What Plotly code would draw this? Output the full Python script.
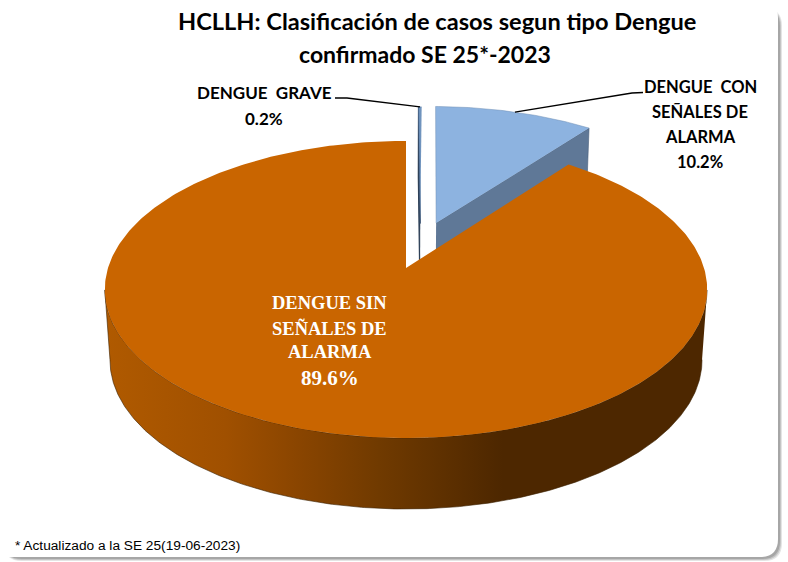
import numpy as np
import plotly.graph_objects as go

# ---- data ----
categories = ["DENGUE GRAVE", "DENGUE CON SEÑALES DE ALARMA", "DENGUE SIN SEÑALES DE ALARMA"]
values = [0.2, 10.2, 89.6]
footnote = "* Actualizado a la SE 25(19-06-2023)"
title_lines = ["HCLLH: Clasificación de casos segun tipo Dengue", "confirmado SE 25*-2023"]

# ---- pie scale: values -> clockwise angle from 12 o'clock ----
edges = np.concatenate([[0], np.cumsum(values)]) * 3.6

# ---- projection (perspective view of the pie) ----
X0, Y0, A, B, K, DEPTH, M = 406, 268, 298, 145.4, 0.1448, 71, 0.017
offsets = [(0.05, 0.32), (0.1058, 0.324), (0.0, 0.0)]   # exploded slices


def project(clock, r=1.0, off=(0, 0), h=0.0):
    t = np.radians(clock)
    u = r * np.sin(t) + off[0]
    v = r * np.cos(t) + off[1]
    w = 1 + K * v + M * h
    return X0 + A * u / w, Y0 - B * v / (1 + K * v) + DEPTH * h


def arc(a, b, off=(0, 0), h=0.0, n=240):
    return project(np.linspace(a, b, n), 1.0, off, h)


def poly(fig, x, y, fill, line=None, lw=0.0, **kw):
    fig.add_trace(go.Scatter(
        x=list(x), y=list(y), mode="lines", fill="toself", fillcolor=fill,
        line=dict(color=line or fill, width=lw), hoverinfo="skip", showlegend=False, **kw))


fig = go.Figure()

# grave sliver: cut face then top
a, b = edges[0], edges[1]
off = offsets[0]
ax0, ay0 = project(a, 0, off)
ax1, ay1 = project(a, 0, off, 1)
rx0, ry0 = project(a, 1, off)
rx1, ry1 = project(a, 1, off, 1)
poly(fig, [ax0, rx0, rx1, ax1], [ay0, ry0, ry1, ay1], "#2E4057", "#2E4057", 1.2)
x, y = arc(a, b, off, n=8)
poly(fig, [ax0, *x], [ay0, *y], "#6F93BD", "#50709A", 0.5)

# blue slice: cut face then top
a, b = edges[1], edges[2]
off = offsets[1]
ax0, ay0 = project(b, 0, off)
ax1, ay1 = project(b, 0, off, 1)
rx0, ry0 = project(b, 1, off)
rx1, ry1 = project(b, 1, off, 1)
poly(fig, [ax0, rx0, rx1, ax1], [ay0, ry0, ry1, ay1], "#5F7897", "#4A5F7A", 0.6)
x, y = arc(a, b, off, n=60)
ax, ay = project(a, 0, off)
poly(fig, [ax, *x], [ay, *y], "#8DB3E0", "#6F8FB5", 0.5)

# orange slice: outer wall (gradient, between the rim tangents) then top
a, b = edges[2], edges[3]
xt, yt = arc(60, 300, n=481)
xb, yb = arc(60, 300, h=1, n=481)
tr, tl = int(np.argmax(xt)), int(np.argmin(xt))
br, bl = int(np.argmax(xb)), int(np.argmin(xb))
wall_x = list(xt[tr:tl + 1]) + list(xb[br:bl + 1][::-1])
wall_y = list(yt[tr:tl + 1]) + list(yb[br:bl + 1][::-1])
fig.add_trace(go.Scatter(
    x=wall_x, y=wall_y,
    mode="lines", fill="toself",
    fillgradient=dict(type="horizontal", colorscale=[
        [0.0, "#B05A00"], [0.2, "#A05000"], [0.32, "#8A4500"],
        [0.456, "#703A00"], [0.66, "#4D2700"], [1.0, "#4D2700"]]),
    line=dict(color="#3A2000", width=0.6), hoverinfo="skip", showlegend=False))
x, y = arc(a, b, n=400)
ax, ay = project(a, 0)
poly(fig, [ax, *x], [ay, *y], "#C96500")

# leader lines, anchored on the slice rims
gx, gy = project(edges[0], 1, offsets[0])
bx, by = project((edges[1] + edges[2]) / 2, 1, offsets[1])
for lx, ly in (([335, 347, gx + 1.5], [98, 98, gy]), ([bx, 632, 643], [by, 93, 92.5])):
    fig.add_trace(go.Scatter(x=lx, y=ly, mode="lines", line=dict(color="#000000", width=1.4),
                             hoverinfo="skip", showlegend=False))


def txt(s, x, y, size, family, color="#000000", anchor="center"):
    fig.add_annotation(x=x, y=y, text=s, showarrow=False, xanchor=anchor, yanchor="middle",
                       font=dict(size=size, family=family, color=color))


CAL = "Lato"
for s, x, y, size in zip(title_lines, (437, 425), (21, 54), (23.6, 23)):
    txt(f"<b>{s}</b>", x, y, size, CAL)

txt("<b>DENGUE  GRAVE</b>", 264, 92, 17, CAL)
txt(f"<b>{values[0]}%</b>", 264, 118, 17, CAL)

for s, y in zip(["DENGUE  CON", "SEÑALES DE", "ALARMA", f"{values[1]}%"], (87, 112, 137, 162)):
    txt(f"<b>{s}</b>", 700, y, 16.5, CAL)

SER = "Liberation Serif"
for s, y in zip(["DENGUE SIN", "SEÑALES DE", "ALARMA"], (303, 328, 352)):
    txt(f"<b>{s}</b>", 329.5, y, 18.5, SER, "#FFFFFF")
txt(f"<b>{values[2]}%</b>", 329.5, 378, 21, SER, "#FFFFFF")

txt(footnote, 13, 545, 13.7, "Liberation Sans", anchor="left")


def rounded(x0, y0, x1, y1, r):
    return (f"M{x0},{y0} L{x1 - r},{y0} Q{x1},{y0} {x1},{y0 + r} L{x1},{y1 - r} "
            f"Q{x1},{y1} {x1 - r},{y1} L{x0 + r},{y1} Q{x0},{y1} {x0},{y1 - r} Z")


shapes = []
for d, col in ((4, "#E4E4E4"), (3, "#C4C4C4"), (2, "#A6A6A6")):
    shapes.append(dict(type="path", path=rounded(4, 8, 778 + d, 557 + d, 18), layer="below",
                       fillcolor=col, line=dict(width=0)))
shapes.append(dict(type="path", path=rounded(-20, 0, 778, 557, 18), layer="below",
                   fillcolor="#FFFFFF", line=dict(width=0)))

fig.update_layout(
    width=788, height=562, margin=dict(l=0, r=0, t=0, b=0), autosize=False,
    paper_bgcolor="#FFFFFF", plot_bgcolor="rgba(0,0,0,0)", shapes=shapes, showlegend=False,
    xaxis=dict(range=[0, 788], visible=False, fixedrange=True),
    yaxis=dict(range=[562, 0], visible=False, fixedrange=True),
)
fig.write_html("out.html", config={"displayModeBar": False},
               post_script="document.body.style.margin='0';")
